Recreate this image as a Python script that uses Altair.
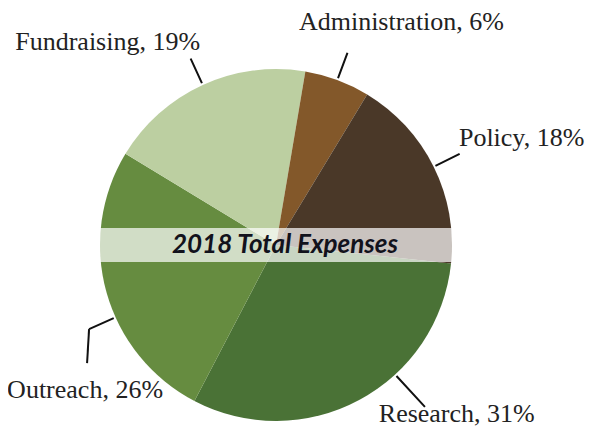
import math
import altair as alt
import pandas as pd

# ---- data ----
categories = ["Research", "Outreach", "Fundraising", "Administration", "Policy"]
percents = [31, 26, 19, 6, 18]
colors = ["#4a7236", "#668c40", "#bccfa1", "#83582a", "#4a3828"]
title_text = "2018 Total Expenses"

df = pd.DataFrame({
    "category": categories,
    "percent": percents,
    "order": list(range(len(categories))),
    "label": [f"{c}, {p}%" for c, p in zip(categories, percents)],
})

# ---- layout (page coords minus 8px margin) ----
CX, CY = 268, 237
R = 176
START = math.radians(96)
# category: (leader angle shift in percent units, leader outer radius, label dx, label dy)
label_style = {
    "Fundraising": (0, 205, -83, -17),
    "Administration": (0, 205, 54, -31),
    "Policy": (0, 205, 62, -16),
    "Research": (-4, 220, 42, 18),
    "Outreach": (-2.4, 205, -4, 61),
}

theta_scale = alt.Scale(domain=[0, 100], range=[START, START + 2 * math.pi])
color_scale = alt.Scale(domain=categories, range=colors)

base = alt.Chart(df).transform_window(
    cum="sum(percent)", sort=[alt.SortField("order")]
).transform_calculate(mid="datum.cum - datum.percent / 2")

pie = base.mark_arc(radius=R, stroke=None).encode(
    theta=alt.Theta("percent:Q", stack=True, scale=theta_scale),
    order=alt.Order("order:Q"),
    color=alt.Color("category:N", scale=color_scale, legend=None),
    x=alt.value(CX),
    y=alt.value(CY),
)

layers = [pie]
for cat, (shift, r_out, dx, dy) in label_style.items():
    sub = base.transform_filter(alt.datum.category == cat).transform_calculate(
        ang=f"datum.mid + ({shift})"
    )
    layers.append(
        sub.mark_arc(radius=178, radius2=r_out, stroke="#111111", strokeWidth=2,
                     fillOpacity=0).encode(
            theta=alt.Theta("ang:Q", stack=None, scale=theta_scale),
            theta2="ang:Q",
            x=alt.value(CX),
            y=alt.value(CY),
        )
    )
    layers.append(
        sub.mark_text(
            radius=r_out if cat != "Research" else 205, dx=dx, dy=dy,
            align="center", baseline="middle",
            font="Liberation Serif", fontSize=26, color="#222222",
        ).encode(
            theta=alt.Theta("ang:Q", stack=None, scale=theta_scale),
            text="label:N",
            x=alt.value(CX),
            y=alt.value(CY),
        )
    )

# elbow segment of the Outreach leader, dropping from the leader's outer end
elbow = base.transform_filter(alt.datum.category == "Outreach").transform_calculate(
    a=f"{START} + (datum.mid - 2.4) / 100 * 2 * PI",
    px=f"{CX} + 205 * sin(datum.a)",
    py=f"{CY} - 205 * cos(datum.a)",
    px2="datum.px - 2",
    py2="datum.py + 34",
).mark_rule(color="#111111", strokeWidth=2).encode(
    x=alt.X("px:Q", scale=None), x2="px2:Q",
    y=alt.Y("py:Q", scale=None), y2="py2:Q",
)
layers.append(elbow)

title_df = pd.DataFrame({"t": [title_text]})
band = alt.Chart(title_df).mark_rect(color="white", opacity=0.7).encode(
    x=alt.value(CX - R), x2=alt.value(CX + R),
    y=alt.value(220), y2=alt.value(254),
)
title = alt.Chart(title_df).mark_text(
    font="Lato", fontSize=26, fontStyle="italic", fontWeight="bold",
    color="#12121c", align="center", baseline="middle",
).encode(text="t:N", x=alt.value(277), y=alt.value(237))
layers += [band, title]

chart = alt.layer(*layers).properties(
    width=577, height=420,
    autosize=alt.AutoSizeParams(type="none"),
    padding=0,
).configure_view(stroke=None)

chart.save("out.html", embed_options={"renderer": "svg", "actions": False})
